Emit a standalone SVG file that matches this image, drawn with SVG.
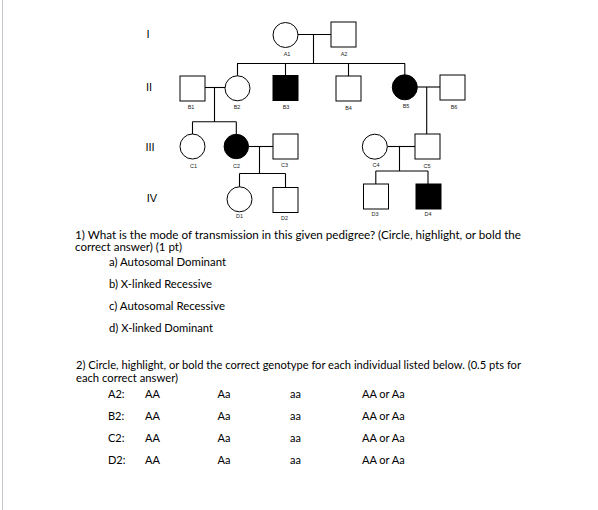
<svg xmlns="http://www.w3.org/2000/svg" width="598" height="510" viewBox="0 0 598 510">
<style>
.o{fill:#fff;stroke:#000;stroke-width:1}
.f{fill:#000;stroke:#000;stroke-width:1}
.c line{stroke:#000;stroke-width:1.1}
.lb{font-family:"Liberation Sans",Arial,sans-serif;font-size:5.5px;fill:#222;text-anchor:middle}
.gen{font-family:"Liberation Sans",Arial,sans-serif;font-size:11px;fill:#000;text-anchor:middle}
.t{font-family:Lato,"Liberation Sans",Arial,sans-serif;font-size:11px;fill:#000}
</style>
<rect width="598" height="510" fill="#fff"/>
<line x1="2.5" y1="0" x2="2.5" y2="510" stroke="#c4c4cc" stroke-width="1"/>
<g id="gen-labels">
<text class="gen" x="148" y="38">I</text>
<text class="gen" x="149" y="91">II</text>
<text class="gen" x="150" y="151">III</text>
<text class="gen" x="152" y="202">IV</text>
</g>
<g id="connectors" class="c">
<line x1="298" y1="34.5" x2="331" y2="34.5"/>
<line x1="313.5" y1="34.5" x2="313.5" y2="63.5"/>
<line x1="237" y1="63.5" x2="405" y2="63.5"/>
<line x1="237.5" y1="63.5" x2="237.5" y2="76"/>
<line x1="285.5" y1="63.5" x2="285.5" y2="75.5"/>
<line x1="348.5" y1="63.5" x2="348.5" y2="76"/>
<line x1="404.8" y1="63.5" x2="404.8" y2="75"/>
<line x1="205" y1="87.5" x2="225" y2="87.5"/>
<line x1="214.5" y1="87.5" x2="214.5" y2="121.7"/>
<line x1="192.5" y1="121.7" x2="236.3" y2="121.7"/>
<line x1="192.5" y1="121.7" x2="192.5" y2="134"/>
<line x1="236.3" y1="121.7" x2="236.3" y2="134"/>
<line x1="417.3" y1="87" x2="440" y2="87"/>
<line x1="426.7" y1="87" x2="426.7" y2="134"/>
<line x1="248.5" y1="146.5" x2="273" y2="146.5"/>
<line x1="259.5" y1="146.5" x2="259.5" y2="173.5"/>
<line x1="239.5" y1="173.5" x2="285.5" y2="173.5"/>
<line x1="239.5" y1="173.5" x2="239.5" y2="187"/>
<line x1="285.5" y1="173.5" x2="285.5" y2="187"/>
<line x1="387.3" y1="146.5" x2="415" y2="146.5"/>
<line x1="399.5" y1="146.5" x2="399.5" y2="171"/>
<line x1="375.8" y1="171" x2="428" y2="171"/>
<line x1="375.8" y1="171" x2="375.8" y2="184"/>
<line x1="428" y1="171" x2="428" y2="184"/>
</g>
<g id="A1"><circle class="o" cx="285.5" cy="35" r="12.5"/><text class="lb" x="287" y="56">A1</text></g>
<g id="A2"><rect class="o" x="331" y="22" width="25" height="25"/><text class="lb" x="344" y="56">A2</text></g>
<g id="B1"><rect class="o" x="180" y="76" width="25" height="25"/><text class="lb" x="191" y="109">B1</text></g>
<g id="B2"><circle class="o" cx="237.5" cy="88.3" r="12.5"/><text class="lb" x="237" y="109">B2</text></g>
<g id="B3"><rect class="f" x="273" y="75.5" width="25" height="25"/><text class="lb" x="286" y="109">B3</text></g>
<g id="B4"><rect class="o" x="336" y="76" width="25" height="25"/><text class="lb" x="348.5" y="110">B4</text></g>
<g id="B5"><circle class="f" cx="404.8" cy="87.3" r="12.5"/><text class="lb" x="406" y="107.5">B5</text></g>
<g id="B6"><rect class="o" x="440" y="75" width="25" height="25"/><text class="lb" x="454" y="108.5">B6</text></g>
<g id="C1"><circle class="o" cx="192.5" cy="146.5" r="12.5"/><text class="lb" x="193.5" y="168">C1</text></g>
<g id="C2"><circle class="f" cx="236.3" cy="146.5" r="12.2"/><text class="lb" x="236.5" y="168">C2</text></g>
<g id="C3"><rect class="o" x="273" y="134" width="25" height="25"/><text class="lb" x="284.5" y="167">C3</text></g>
<g id="C4"><circle class="o" cx="374.8" cy="146.7" r="12.5"/><text class="lb" x="376" y="167">C4</text></g>
<g id="C5"><rect class="o" x="415" y="134" width="25" height="25"/><text class="lb" x="427" y="168">C5</text></g>
<g id="D1"><circle class="o" cx="239.5" cy="199.3" r="12.5"/><text class="lb" x="239.5" y="218">D1</text></g>
<g id="D2"><rect class="o" x="273" y="187.5" width="25" height="25"/><text class="lb" x="284.5" y="220">D2</text></g>
<g id="D3"><rect class="o" x="363.5" y="184" width="25" height="25"/><text class="lb" x="375" y="216">D3</text></g>
<g id="D4"><rect class="f" x="416" y="184" width="25" height="25"/><text class="lb" x="428" y="216">D4</text></g>
<g id="question1">
<text class="t" x="75" y="238.5" textLength="446" lengthAdjust="spacingAndGlyphs">1) What is the mode of transmission in this given pedigree? (Circle, highlight, or bold the</text>
<text class="t" x="75" y="251" textLength="107" lengthAdjust="spacingAndGlyphs">correct answer) (1 pt)</text>
<text class="t" x="109" y="266" textLength="117" lengthAdjust="spacingAndGlyphs">a) Autosomal Dominant</text>
<text class="t" x="109" y="288" textLength="103" lengthAdjust="spacingAndGlyphs">b) X-linked Recessive</text>
<text class="t" x="109" y="310" textLength="116" lengthAdjust="spacingAndGlyphs">c) Autosomal Recessive</text>
<text class="t" x="109" y="332" textLength="104" lengthAdjust="spacingAndGlyphs">d) X-linked Dominant</text>
</g>
<g id="question2">
<text class="t" x="76" y="368.5" textLength="445" lengthAdjust="spacingAndGlyphs">2) Circle, highlight, or bold the correct genotype for each individual listed below. (0.5 pts for</text>
<text class="t" x="76" y="382" textLength="102" lengthAdjust="spacingAndGlyphs">each correct answer)</text>
<text class="t" x="108" y="398">A2:</text><text class="t" x="145" y="398">AA</text><text class="t" x="217.5" y="398">Aa</text><text class="t" x="290" y="398">aa</text><text class="t" x="362" y="398">AA or Aa</text>
<text class="t" x="108" y="419.5">B2:</text><text class="t" x="145" y="419.5">AA</text><text class="t" x="217.5" y="419.5">Aa</text><text class="t" x="290" y="419.5">aa</text><text class="t" x="362" y="419.5">AA or Aa</text>
<text class="t" x="108" y="442">C2:</text><text class="t" x="145" y="442">AA</text><text class="t" x="217.5" y="442">Aa</text><text class="t" x="290" y="442">aa</text><text class="t" x="362" y="442">AA or Aa</text>
<text class="t" x="108" y="464">D2:</text><text class="t" x="145" y="464">AA</text><text class="t" x="217.5" y="464">Aa</text><text class="t" x="290" y="464">aa</text><text class="t" x="362" y="464">AA or Aa</text>
</g>
</svg>
